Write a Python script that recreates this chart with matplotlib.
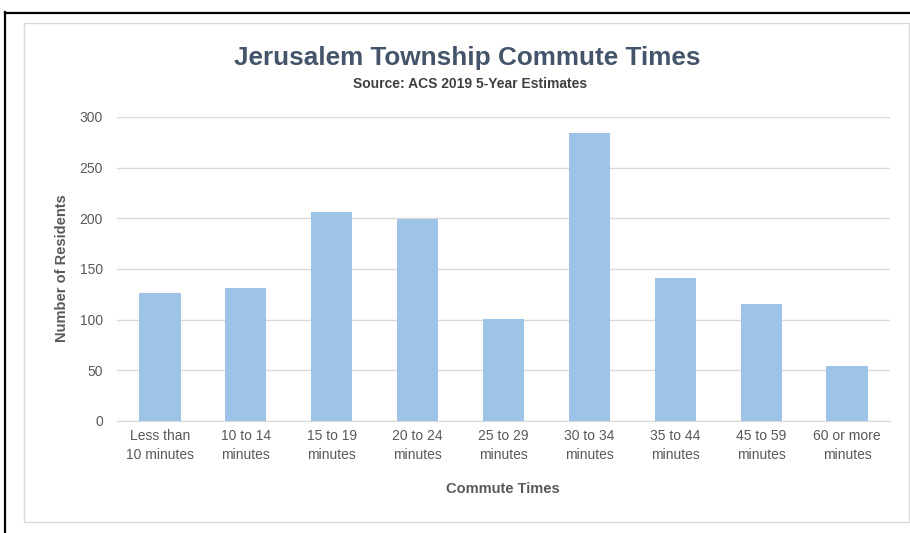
import matplotlib
matplotlib.use("Agg")
import matplotlib.pyplot as plt
from matplotlib.patches import Rectangle
from matplotlib.lines import Line2D

# commute time buckets and resident counts
categories = ["Less than\n10 minutes", "10 to 14\nminutes", "15 to 19\nminutes",
              "20 to 24\nminutes", "25 to 29\nminutes", "30 to 34\nminutes",
              "35 to 44\nminutes", "45 to 59\nminutes", "60 or more\nminutes"]
residents = [126, 131, 206, 199, 101, 284, 141, 115, 54]
yticks = [0, 50, 100, 150, 200, 250, 300]

plt.rcParams['font.family'] = ['Liberation Sans Narrow', 'Liberation Sans', 'DejaVu Sans']

W, H = 910, 533
fig = plt.figure(figsize=(W / 100, H / 100), dpi=100)


def fx(px):
    return px / W


def fy(py):
    return 1 - py / H


# outer black frame (left and top edges) and light chart-area border
fig.add_artist(Line2D([fx(5), fx(5)], [fy(12), 0], color='black', lw=1.6))
fig.add_artist(Line2D([fx(5), 1], [fy(12.5), fy(12.5)], color='black', lw=1.6))
fig.add_artist(Rectangle((fx(24), fy(522)), fx(909) - fx(24), fy(23) - fy(522),
                         transform=fig.transFigure, fill=False, ec='#D9D9D9', lw=1))

ax = fig.add_axes([fx(117), fy(421), fx(890) - fx(117), fy(117) - fy(421)])
x = range(len(categories))
ax.bar(x, residents, width=0.48, color='#9DC3E6', zorder=3)

ax.set_ylim(0, 300)
ax.set_xlim(-0.5, len(categories) - 0.5)
ax.set_yticks(yticks)
ax.set_xticks(list(x))
ax.set_xticklabels(categories, fontsize=10, color='#595959', linespacing=1.45)
ax.tick_params(axis='y', labelsize=10, labelcolor='#595959', length=0, pad=10)
ax.tick_params(axis='x', length=0, pad=6)
ax.grid(axis='y', color='#D9D9D9', lw=1, zorder=0)
for s in ['top', 'right', 'left']:
    ax.spines[s].set_visible(False)
ax.spines['bottom'].set_color('#D9D9D9')

fig.text(fx(467), fy(58), "Jerusalem Township Commute Times", ha='center', va='center',
         fontsize=18.8, fontweight='bold', color='#44546A')
fig.text(fx(470), fy(84), "Source: ACS 2019 5-Year Estimates", ha='center', va='center',
         fontsize=10, fontweight='bold', color='#404040')
fig.text(fx(62), fy(268), "Number of Residents", ha='center', va='center', rotation=90,
         fontsize=10.5, fontweight='bold', color='#595959')
fig.text(fx(503), fy(489), "Commute Times", ha='center', va='center',
         fontsize=10.5, fontweight='bold', color='#595959')

fig.savefig("out.png", dpi=100)
